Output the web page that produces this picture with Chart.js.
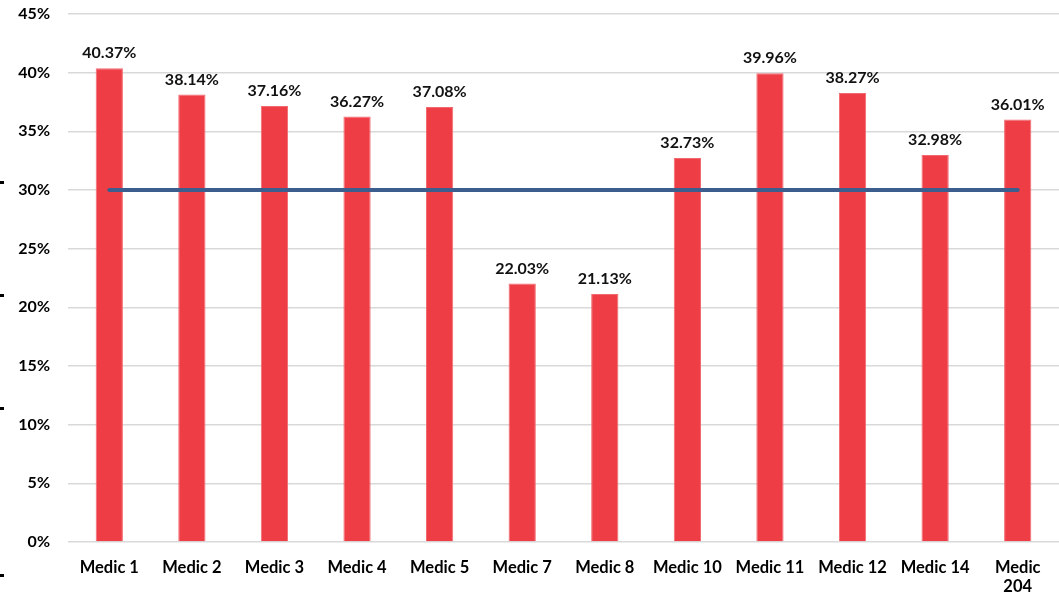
<!DOCTYPE html>
<html>
<head>
<meta charset="utf-8">
<script src="https://cdn.jsdelivr.net/npm/chart.js@4/dist/chart.umd.min.js"></script>
<style>
  html, body { margin: 0; padding: 0; background: #fff; }
  #wrap { width: 1059px; height: 601px; }
</style>
</head>
<body>
<div id="wrap"><canvas id="chart"></canvas></div>
<script>
const categories = ["Medic 1", "Medic 2", "Medic 3", "Medic 4", "Medic 5", "Medic 7", "Medic 8",
  "Medic 10", "Medic 11", "Medic 12", "Medic 14", ["Medic", "204"]];
const rates = [40.37, 38.14, 37.16, 36.27, 37.08, 22.03, 21.13, 32.73, 39.96, 38.27, 32.98, 36.01];
const target = [30, 30, 30, 30, 30, 30, 30, 30, 30, 30, 30, 30];

const FONT = "Lato, 'Open Sans', sans-serif";

// values written above each bar
const barLabels = {
  id: "barLabels",
  afterDatasetsDraw(chart) {
    const ctx = chart.ctx;
    const meta = chart.getDatasetMeta(1);
    ctx.save();
    ctx.font = "bold 16px " + FONT;
    ctx.fillStyle = "#111";
    ctx.textAlign = "center";
    ctx.textBaseline = "bottom";
    meta.data.forEach((bar, i) => {
      ctx.fillText(rates[i].toFixed(2) + "%", bar.x, bar.y - 7);
    });
    ctx.restore();
  }
};

// little black ticks on the left border of the picture
const edgeMarks = {
  id: "edgeMarks",
  afterDraw(chart) {
    const ctx = chart.ctx;
    ctx.save();
    ctx.fillStyle = "#000";
    [181, 294, 407, 574].forEach(y => ctx.fillRect(0, y, 4, 3));
    ctx.restore();
  }
};

new Chart(document.getElementById("chart"), {
  data: {
    labels: categories,
    datasets: [
      {
        type: "line",
        data: target,
        borderColor: "#3B5E8E",
        borderWidth: 4,
        borderCapStyle: "round",
        pointRadius: 0,
        order: 0
      },
      {
        type: "bar",
        data: rates,
        backgroundColor: "#EE3D45",
        borderColor: "#F26A70",
        borderWidth: 1,
        barPercentage: 0.33,
        categoryPercentage: 1,
        order: 1
      }
    ]
  },
  options: {
    responsive: true,
    maintainAspectRatio: false,
    animation: false,
    layout: { padding: { top: 14, right: 0, bottom: 0, left: 0 } },
    plugins: {
      legend: { display: false },
      tooltip: { enabled: false }
    },
    scales: {
      x: {
        grid: { display: false },
        border: { display: false },
        ticks: {
          color: "#000",
          font: { family: FONT, size: 16.5, weight: "bold", lineHeight: 1.1 },
          maxRotation: 0,
          autoSkip: false,
          padding: 9
        },
        afterFit(scale) { scale.height = 59; }
      },
      y: {
        min: 0,
        max: 45,
        grid: { color: "#D9D9D9", lineWidth: 1.5, drawTicks: false },
        border: { display: false },
        ticks: {
          stepSize: 5,
          color: "#000",
          padding: 18,
          font: { family: FONT, size: 16, weight: "bold" },
          callback: v => v + "%"
        },
        afterFit(scale) {
          scale.width = 68;
          scale.paddingTop = 0;
          scale.paddingBottom = 0;
        }
      }
    }
  },
  plugins: [barLabels, edgeMarks]
});
</script>
</body>
</html>
